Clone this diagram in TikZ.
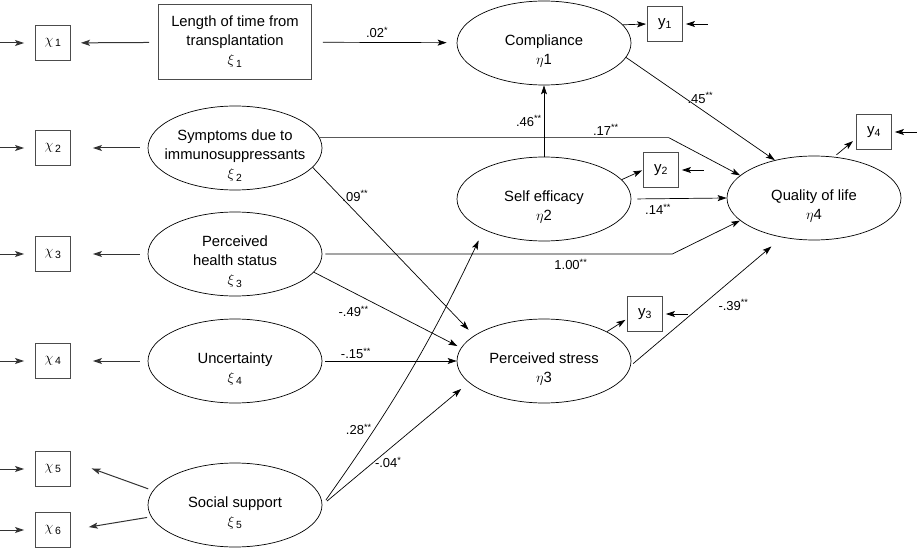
\documentclass[tikz,border=0pt]{standalone}
\usepackage{fontspec}
\setmainfont{Liberation Sans}
\usetikzlibrary{
	positioning,
	shapes.geometric,
	arrows.meta
}

\begin{document}
\begin{tikzpicture}[
	x=1pt, y=-1pt,
	every node/.style={font=\fontsize{14.8}{19}\selectfont},
	latent/.style={draw, ellipse, minimum width=174pt, minimum height=84pt, inner sep=0pt, line width=0.7pt},
	caption/.style={align=center, yshift=-8pt},
	framed/.style={draw=black!70, line width=0.9pt, minimum width=153pt, minimum height=75pt, align=center},
	observed/.style={draw=black!70, line width=0.9pt, minimum size=35pt, inner sep=0pt, font=\fontsize{15}{17}\selectfont},
	effect/.style={-{Stealth[length=9pt,width=6pt,inset=2pt]}, line width=0.7pt},
	loading/.style={effect, line width=1pt, draw=black!80},
	coef/.style={font=\fontsize{13}{15}\selectfont, inner sep=2pt}
]
	\useasboundingbox (0,0) rectangle (917,548);

	% exogenous constructs
	\node[framed] (len) at (235,42) {Length of time from\\transplantation\\$\xi$\textsubscript{\,1}};
	\node[latent, label={[caption]center:{Symptoms due to\\immunosuppressants\\$\xi$\textsubscript{\,2}}}] (symp) at (235,148) {};
	\node[latent, label={[caption]center:{Perceived\\health status\\$\xi$\textsubscript{\,3}}}] (health) at (235,254) {};
	\node[latent, label={[caption]center:{Uncertainty\\$\xi$\textsubscript{\,4}}}] (unc) at (235,361) {};
	\node[latent, label={[caption]center:{Social support\\$\xi$\textsubscript{\,5}}}] (social) at (235,505) {};

	% endogenous constructs
	\node[latent, label={[caption]center:{Compliance\\$\eta$1}}] (comp) at (544,43) {};
	\node[latent, label={[caption]center:{Self efficacy\\$\eta$2}}] (self) at (544,199) {};
	\node[latent, label={[caption]center:{Perceived stress\\$\eta$3}}] (stress) at (544,361) {};
	\node[latent, label={[caption]center:{Quality of life\\$\eta$4}}] (qol) at (814,198) {};

	% indicators
	\node[observed] (x1) at (53,43) {$\chi$\textsubscript{\,1}};
	\node[observed] (x2) at (53,148) {$\chi$\textsubscript{\,2}};
	\node[observed] (x3) at (53,254) {$\chi$\textsubscript{\,3}};
	\node[observed] (x4) at (53,361) {$\chi$\textsubscript{\,4}};
	\node[observed] (x5) at (53,469) {$\chi$\textsubscript{\,5}};
	\node[observed] (x6) at (53,530) {$\chi$\textsubscript{\,6}};
	\node[observed] (y1) at (665,24) {y\textsubscript{1}};
	\node[observed] (y2) at (661,170) {y\textsubscript{2}};
	\node[observed] (y3) at (645,314) {y\textsubscript{3}};
	\node[observed] (y4) at (874,132) {y\textsubscript{4}};

	% measurement part
	\draw[loading, shorten <=9pt, shorten >=10pt] (len) -- (x1);
	\draw[loading, shorten <=8pt, shorten >=22pt] (symp) -- (x2);
	\draw[loading, shorten <=8pt, shorten >=22pt] (health) -- (x3);
	\draw[loading, shorten <=8pt, shorten >=22pt] (unc) -- (x4);
	\draw[loading, shorten <=5pt, shorten >=22pt] (social.170) -- ([yshift=8pt]x5.east);
	\draw[loading, shorten <=4pt, shorten >=18pt] (social.188) -- (x6.east);
	\draw[loading, shorten >=11pt] (x1.west) ++(-36,0) -- (x1.west);
	\draw[loading, shorten >=11pt] (x2.west) ++(-36,0) -- (x2.west);
	\draw[loading, shorten >=11pt] (x3.west) ++(-36,0) -- (x3.west);
	\draw[loading, shorten >=11pt] (x4.west) ++(-36,0) -- (x4.west);
	\draw[loading, shorten >=11pt] (x5.west) ++(-36,0) -- (x5.west);
	\draw[loading, shorten >=11pt] (x6.west) ++(-36,0) -- (x6.west);

	\draw[effect, shorten >=1pt] (comp.13) -- (y1.west);
	\draw[effect, shorten >=1pt] (self.14) -- (y2.west);
	\draw[effect, shorten >=2pt] (stress.25) -- (y3.195);
	\draw[effect, shorten <=3pt, shorten >=4pt] (qol.64) -- (y4.200);
	\draw[effect, shorten >=3pt] (y1.east) ++(25,0) -- (y1.east);
	\draw[effect, shorten >=3pt] (y2.east) ++(25,0) -- (y2.east);
	\draw[effect, shorten >=3pt] (y3.east) ++(25,0) -- (y3.east);
	\draw[effect, shorten >=3pt] (y4.east) ++(25,0) -- (y4.east);

	% structural part
	\draw[effect, shorten <=11pt, shorten >=10pt] (len) -- (comp) node[coef, pos=0.45, above=2pt] {.02\textsuperscript{*}};
	\draw[effect] (comp.-10) -- (qol.136) node[coef, midway, above=3pt] {.45\textsuperscript{**}};
	\draw[effect] (self) -- (comp) node[coef, midway, left] {.46\textsuperscript{**}};
	\draw[effect] (symp.7) -- ++(349,0) node[coef, pos=0.82, above] {.17\textsuperscript{**}} -- (qol.163);
	\draw[effect, shorten <=6pt] (self.east) -- (qol.west) node[coef, pos=0.28, below=3pt] {.14\textsuperscript{**}};
	\draw[effect, shorten <=3pt] (health.east) -- ++(350,0) node[coef, pos=0.71, below=3pt] {1.00\textsuperscript{**}} -- (qol.197);
	\draw[effect, shorten >=8pt] (symp.-14) -- (stress.160) node[coef, pos=0.17, right] {.09\textsuperscript{**}};
	\draw[effect, shorten >=4pt] (health.-13) -- (stress.171) node[coef, pos=0.27, below=11pt] {-.49\textsuperscript{**}};
	\draw[effect, shorten <=3pt] (unc.east) -- (stress.west) node[coef, pos=0.25, above] {-.15\textsuperscript{**}};
	\draw[effect, shorten <=6pt, shorten >=12pt] (social.east) to[bend right=5] node[coef, pos=0.27, left] {.28\textsuperscript{**}} (self.207);
	\draw[effect, shorten <=6pt, shorten >=10pt] (social.east) -- (stress.196) node[coef, pos=0.45, below=5pt] {-.04\textsuperscript{*}};
	\draw[effect, shorten <=3pt, shorten >=14pt] (stress.-3) -- (qol.231) node[coef, pos=0.55, below right=3pt] {-.39\textsuperscript{**}};

\end{tikzpicture}
\end{document}
